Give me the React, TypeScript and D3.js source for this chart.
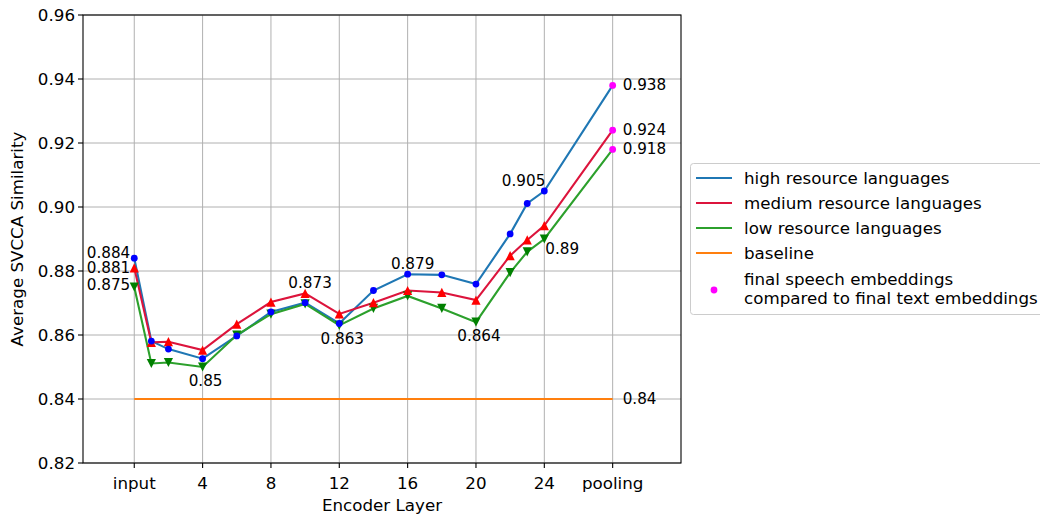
import React from "react";
import * as d3 from "d3";

// Encoder layer positions; "pooling" sits at position 28.
const layerPositions = [0, 1, 2, 4, 6, 8, 10, 12, 14, 16, 18, 20, 22, 23, 24, 28];
const poolingPosition = 28;

const tickPositions = [0, 4, 8, 12, 16, 20, 24, 28];
const tickLabels = ["input", "4", "8", "12", "16", "20", "24", "pooling"];
const yTicks = [0.82, 0.84, 0.86, 0.88, 0.9, 0.92, 0.94, 0.96];

const highResource = [0.884, 0.8581, 0.8556, 0.8526, 0.8597, 0.8672, 0.8701, 0.8636, 0.8739, 0.879, 0.8788, 0.8759, 0.8916, 0.9011, 0.905, 0.938];
const mediumResource = [0.881, 0.8577, 0.8579, 0.8553, 0.8634, 0.8703, 0.873, 0.8666, 0.8701, 0.8739, 0.8733, 0.8709, 0.8848, 0.8897, 0.8942, 0.924];
const lowResource = [0.875, 0.8511, 0.8514, 0.85, 0.86, 0.8665, 0.8697, 0.863, 0.8683, 0.8722, 0.8683, 0.864, 0.8795, 0.886, 0.89, 0.918];
const baselineValue = 0.84;

type Placement = "topLeft" | "upperLeft" | "left" | "below" | "above" | "aboveLeft" | "belowRight" | "right";
const annotations: { series: "high" | "medium" | "low"; index: number; place: Placement }[] = [
  { series: "high", index: 0, place: "topLeft" },
  { series: "medium", index: 0, place: "left" },
  { series: "low", index: 0, place: "upperLeft" },
  { series: "low", index: 3, place: "below" },
  { series: "medium", index: 6, place: "above" },
  { series: "low", index: 7, place: "below" },
  { series: "high", index: 9, place: "above" },
  { series: "low", index: 11, place: "below" },
  { series: "high", index: 14, place: "aboveLeft" },
  { series: "low", index: 14, place: "belowRight" },
  { series: "high", index: 15, place: "right" },
  { series: "medium", index: 15, place: "right" },
  { series: "low", index: 15, place: "right" },
];

const W = 1040;
const H = 515;
const M = { left: 83, right: 681, top: 15, bottom: 463 };
const FONT = "DejaVu Sans, sans-serif";
const LABEL_SIZE = 16.7;
const NOTE_SIZE = 15.2;

const x = d3.scaleLinear().domain([-3, 32]).range([M.left, M.right]);
const y = d3.scaleLinear().domain([0.82, 0.96]).range([M.bottom, M.top]);

const fmt = (v: number) => String(+v.toFixed(3));

const seriesData = {
  high: highResource,
  medium: mediumResource,
  low: lowResource,
};

const lineColors = { high: "#1f77b4", medium: "#dc143c", low: "#2ca02c" };

const place = (p: Placement) => {
  switch (p) {
    case "topLeft":
      return { dx: -4, dy: -5, anchor: "end" };
    case "upperLeft":
      return { dx: -4, dy: -2.5, anchor: "end" };
    case "left":
      return { dx: -4, dy: 0.5, anchor: "end" };
    case "below":
      return { dx: 3, dy: 14, anchor: "middle" };
    case "above":
      return { dx: 5, dy: -10, anchor: "middle" };
    case "aboveLeft":
      return { dx: 1, dy: -10, anchor: "end" };
    case "belowRight":
      return { dx: 1, dy: 10, anchor: "start" };
    default:
      return { dx: 10, dy: 0, anchor: "start" };
  }
};

function triangle(cx: number, cy: number, up: boolean, s = 4.6) {
  const d = up ? 1 : -1;
  return `M${cx},${cy - d * s}L${cx - s},${cy + d * s}L${cx + s},${cy + d * s}Z`;
}

export default function App() {
  const line = d3
    .line<number>()
    .x((_, i) => x(layerPositions[i]))
    .y((v) => y(v));

  const markerIdx = layerPositions.map((p, i) => i).filter((i) => layerPositions[i] !== poolingPosition);
  const poolIdx = layerPositions.indexOf(poolingPosition);

  return (
    <div style={{ position: "fixed", left: 0, top: 0, width: W, height: H, background: "#fff" }}>
      <svg width={W} height={H} style={{ display: "block", fontFamily: FONT }}>
        <rect width={W} height={H} fill="#fff" />
        {/* grid */}
        <g stroke="#b0b0b0" strokeWidth={1}>
          {tickPositions.map((t) => (
            <line key={"gx" + t} x1={x(t)} x2={x(t)} y1={M.top} y2={M.bottom} />
          ))}
          {yTicks.map((t) => (
            <line key={"gy" + t} x1={M.left} x2={M.right} y1={y(t)} y2={y(t)} />
          ))}
        </g>

        {/* series lines */}
        <path d={line(highResource) || ""} fill="none" stroke={lineColors.high} strokeWidth={2.1} />
        <path d={line(mediumResource) || ""} fill="none" stroke={lineColors.medium} strokeWidth={2.1} />
        <path d={line(lowResource) || ""} fill="none" stroke={lineColors.low} strokeWidth={2.1} />
        <line
          x1={x(0)}
          x2={x(poolingPosition)}
          y1={y(baselineValue)}
          y2={y(baselineValue)}
          stroke="#ff7f0e"
          strokeWidth={2.1}
        />

        {/* markers */}
        {markerIdx.map((i) => (
          <path key={"lm" + i} d={triangle(x(layerPositions[i]), y(lowResource[i]), false)} fill="#008000" />
        ))}
        {markerIdx.map((i) => (
          <path key={"mm" + i} d={triangle(x(layerPositions[i]), y(mediumResource[i]), true)} fill="#ff0000" />
        ))}
        {markerIdx.map((i) => (
          <circle key={"hm" + i} cx={x(layerPositions[i])} cy={y(highResource[i])} r={3.4} fill="#0000ff" />
        ))}
        {[highResource, mediumResource, lowResource].map((s, k) => (
          <circle key={"pm" + k} cx={x(layerPositions[poolIdx])} cy={y(s[poolIdx])} r={3.4} fill="#ff00ff" />
        ))}

        {/* value annotations */}
        <g fontSize={NOTE_SIZE} fill="#000">
          {annotations.map((a, k) => {
            const v = seriesData[a.series][a.index];
            const p = place(a.place);
            return (
              <text
                key={"an" + k}
                x={x(layerPositions[a.index]) + p.dx}
                y={y(v) + p.dy}
                textAnchor={p.anchor as any}
                dominantBaseline="central"
              >
                {fmt(v)}
              </text>
            );
          })}
          <text x={x(poolingPosition) + 10} y={y(baselineValue)} dominantBaseline="central">
            {fmt(baselineValue)}
          </text>
        </g>

        {/* axes frame */}
        <rect
          x={M.left}
          y={M.top}
          width={M.right - M.left}
          height={M.bottom - M.top}
          fill="none"
          stroke="#000"
          strokeWidth={1.1}
        />
        {/* ticks */}
        <g stroke="#000" strokeWidth={1.1}>
          {tickPositions.map((t) => (
            <line key={"tx" + t} x1={x(t)} x2={x(t)} y1={M.bottom} y2={M.bottom + 5} />
          ))}
          {yTicks.map((t) => (
            <line key={"ty" + t} x1={M.left - 5} x2={M.left} y1={y(t)} y2={y(t)} />
          ))}
        </g>
        <g fontSize={LABEL_SIZE} fill="#000">
          {tickPositions.map((t, i) => (
            <text key={"lx" + t} x={x(t)} y={M.bottom + 20} textAnchor="middle" dominantBaseline="central">
              {tickLabels[i]}
            </text>
          ))}
          {yTicks.map((t) => (
            <text key={"ly" + t} x={M.left - 8} y={y(t)} textAnchor="end" dominantBaseline="central">
              {d3.format(".2f")(t)}
            </text>
          ))}
          <text x={(M.left + M.right) / 2} y={505} textAnchor="middle" dominantBaseline="central">
            Encoder Layer
          </text>
          <text
            transform={`translate(17,${(M.top + M.bottom) / 2}) rotate(-90)`}
            textAnchor="middle"
            dominantBaseline="central"
          >
            Average SVCCA Similarity
          </text>
        </g>

        {/* legend */}
        <g fontSize={LABEL_SIZE} fill="#000">
          <rect x={690.5} y={163.5} width={370} height={151} rx={3} fill="#fff" stroke="#cccccc" strokeWidth={1} />
          {[
            { label: "high resource languages", color: lineColors.high },
            { label: "medium resource languages", color: lineColors.medium },
            { label: "low resource languages", color: lineColors.low },
            { label: "baseline", color: "#ff7f0e" },
          ].map((e, i) => (
            <g key={"lg" + i}>
              <line x1={696} x2={732} y1={178 + i * 25} y2={178 + i * 25} stroke={e.color} strokeWidth={2.1} />
              <text x={744} y={178 + i * 25} dominantBaseline="central">
                {e.label}
              </text>
            </g>
          ))}
          <circle cx={714} cy={290} r={3.4} fill="#ff00ff" />
          <text x={744} y={279} dominantBaseline="central">
            final speech embeddings
          </text>
          <text x={744} y={298} dominantBaseline="central">
            compared to final text embeddings
          </text>
        </g>
      </svg>
    </div>
  );
}
